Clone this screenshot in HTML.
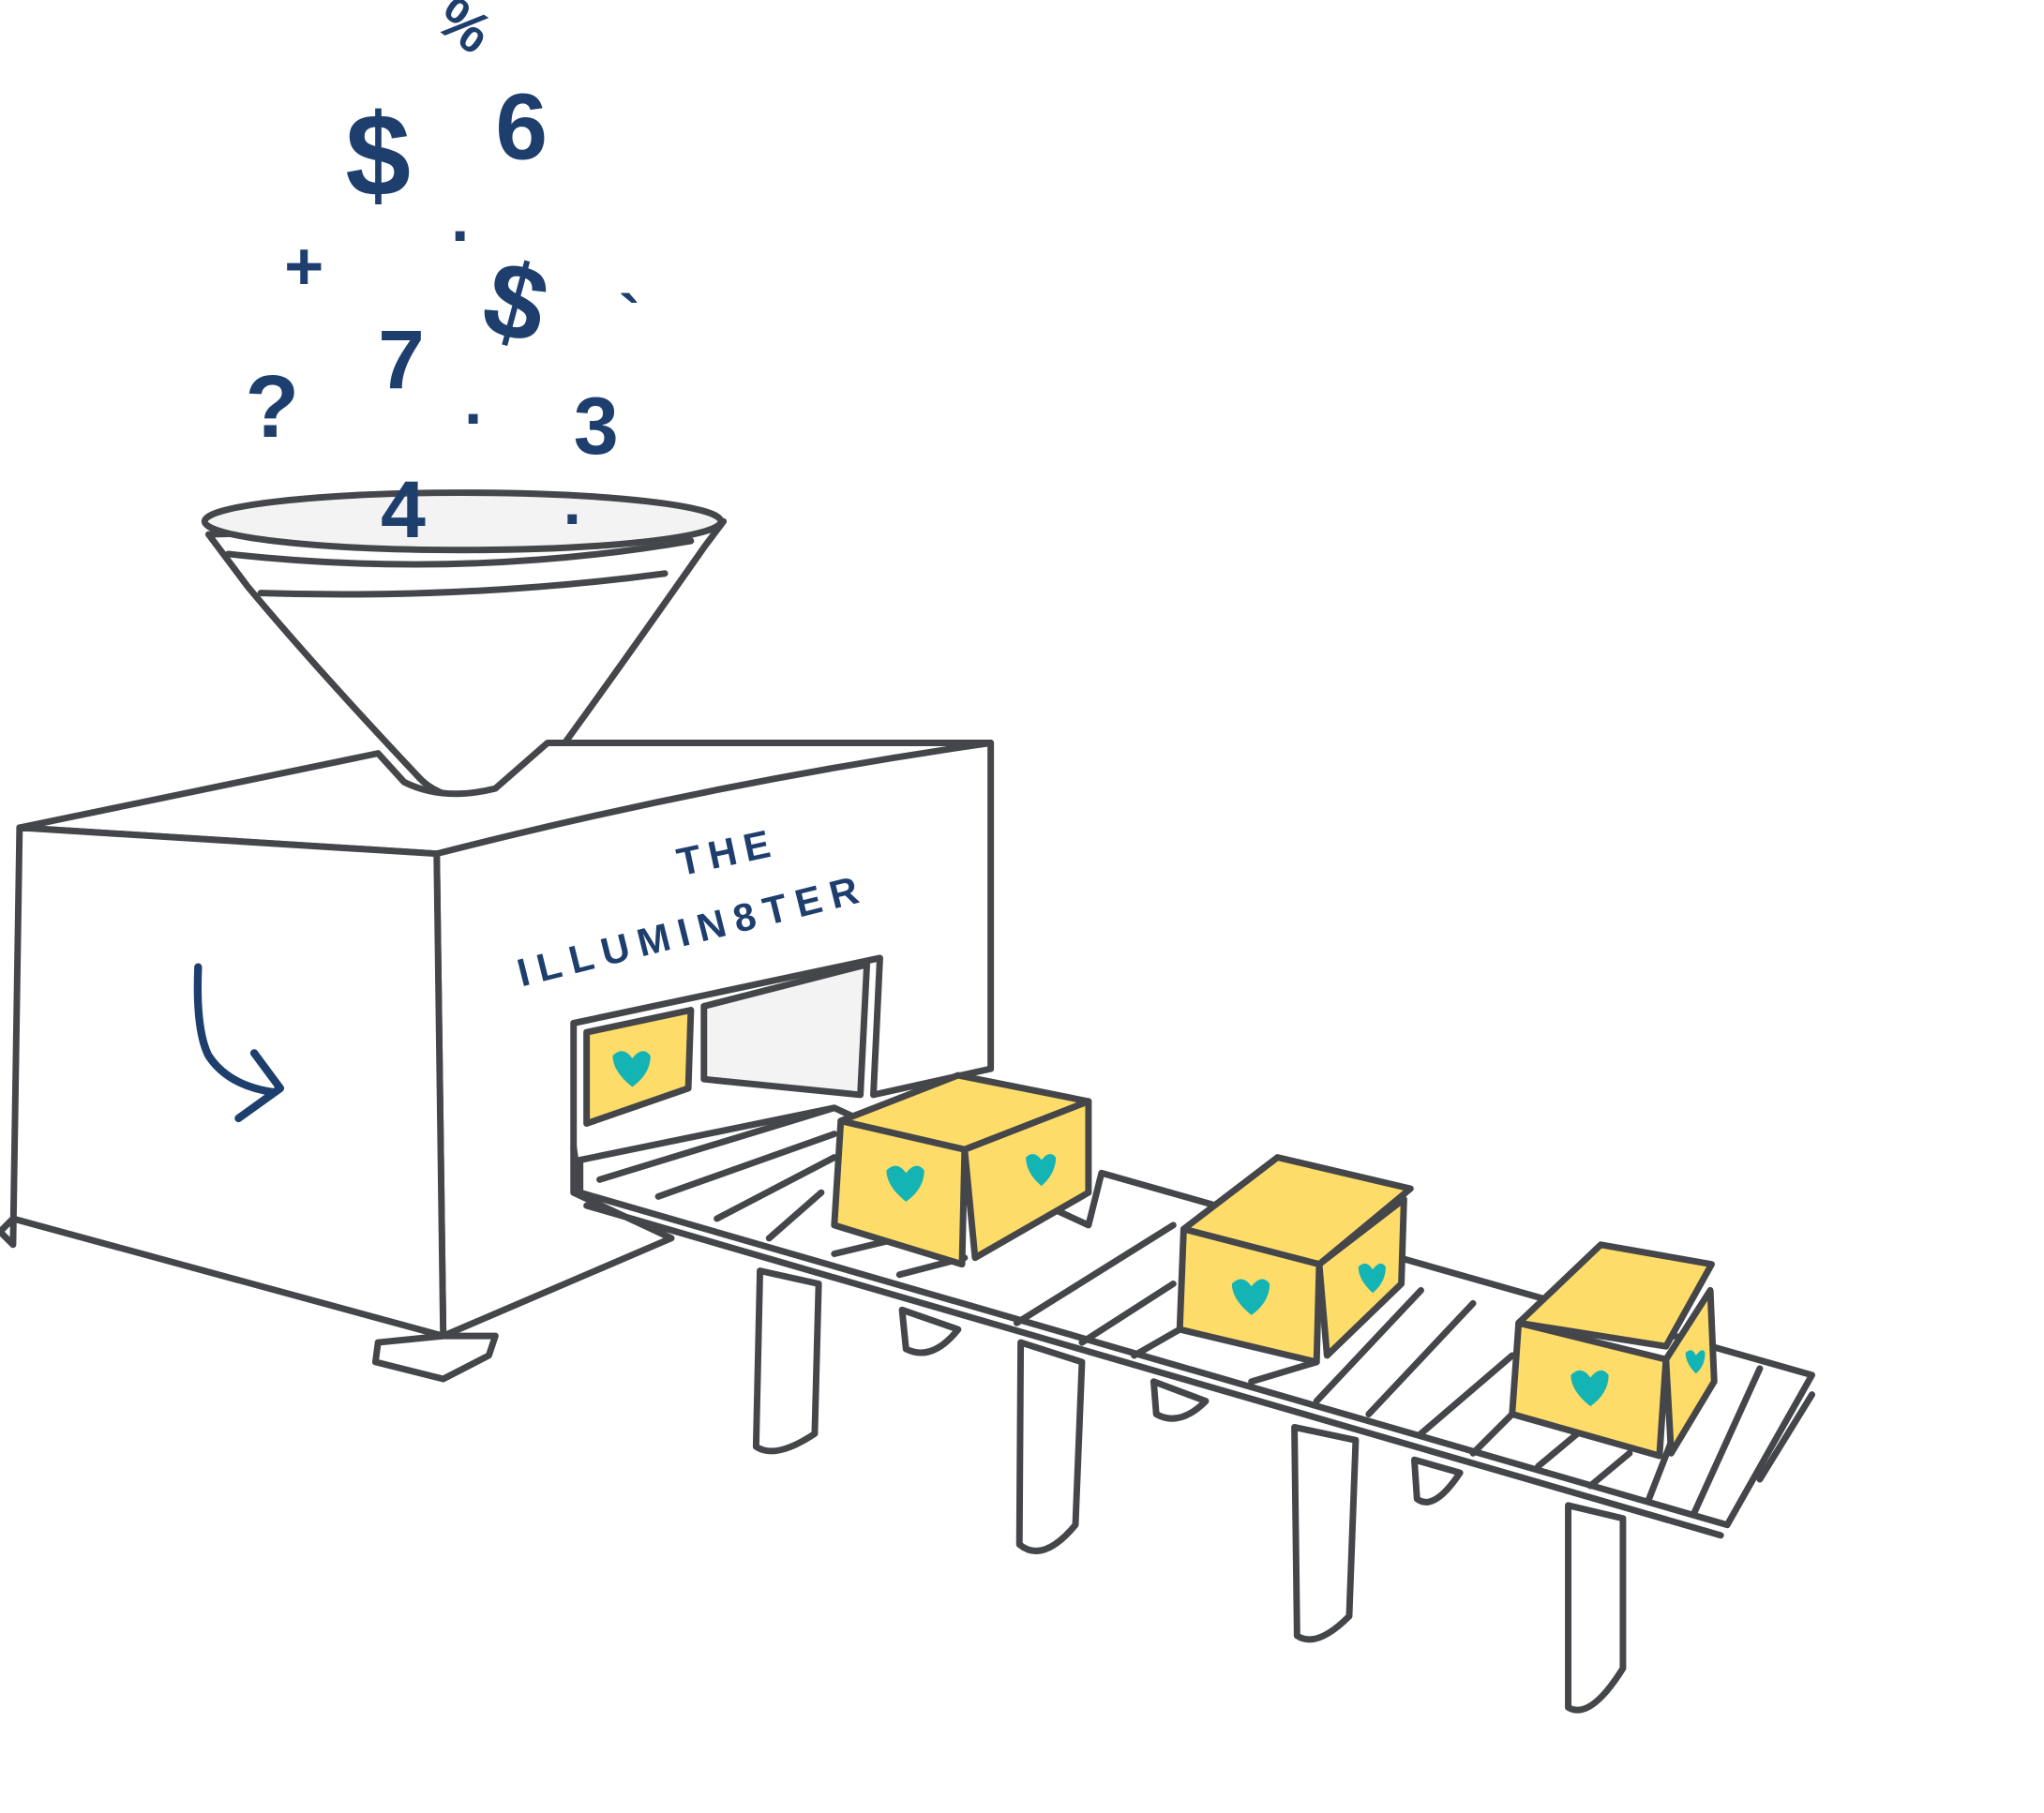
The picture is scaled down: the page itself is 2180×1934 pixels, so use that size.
<!DOCTYPE html>
<html><head><meta charset="utf-8"><style>
html,body{margin:0;padding:0;background:#fff}
svg{display:block}
.s{fill:none;stroke:#45464a;stroke-width:5;stroke-linejoin:round;stroke-linecap:round}
.w{fill:#fff;stroke:#45464a;stroke-width:5;stroke-linejoin:round;stroke-linecap:round}
.y{fill:#fddc6a;stroke:#45464a;stroke-width:5;stroke-linejoin:round}
.g{fill:#f3f3f3;stroke:#45464a;stroke-width:5;stroke-linejoin:round}
.c{fill:#1e3f6e;font-family:"Liberation Sans",sans-serif;font-weight:bold}
.h{fill:#14b4b4}
</style></head><body>
<svg width="2180" height="1934" viewBox="0 0 1568 1391" xmlns="http://www.w3.org/2000/svg">
<g class="c">
<text x="338" y="30" font-size="44" transform="rotate(35 350 15)">%</text>
<text x="265" y="150" font-size="90">$</text>
<text x="380" y="122" font-size="72">6</text>
<text x="346" y="185" font-size="50">.</text>
<text x="218" y="222" font-size="52">+</text>
<text x="375" y="262" font-size="82" transform="rotate(15 405 225)">$</text>
<text x="475" y="260" font-size="48">`</text>
<text x="290" y="298" font-size="64">7</text>
<text x="188" y="335" font-size="68">?</text>
<text x="356" y="325" font-size="50">.</text>
<text x="440" y="348" font-size="62">3</text>
</g>
<!-- funnel -->
<path class="w" d="M160 410 L190 450 Q240 510 320 595 Q335 612 360 612 Q400 612 415 595 Q470 520 540 420 L555 400 Z"/>
<ellipse class="g" cx="355" cy="400" rx="198" ry="22"/>
<path class="s" d="M175 425 Q355 445 530 415"/>
<path class="s" d="M200 455 Q360 460 510 440"/>
<g class="c"><text x="292" y="412" font-size="62">4</text><text x="432" y="402" font-size="50">.</text></g>
<!-- machine -->
<path class="w" d="M15 635 L290 578 L310 600 Q340 615 380 605 L420 570 L760 570 L760 820 L670 840 L675 735 L440 785 L440 915 L515 950 L340 1025 L335 655 Z"/>
<path class="w" d="M15 635 L335 655 L340 1025 L290 1030 L288 1045 L340 1058 L375 1040 L380 1025 L340 1025 L10 935 L0 945 L10 955 Z"/>
<path class="s" d="M335 655 Q550 600 760 570"/>
<path class="g" d="M540 772 L665 740 L660 840 L540 828 Z"/>
<path class="s" style="stroke:#1e3f6e;stroke-width:6" d="M152 742 Q150 790 160 810 Q175 833 210 838 M195 808 L215 835 L183 858"/>
<g class="c" font-size="30">
<text x="522" y="672" transform="rotate(-12 522 672)" letter-spacing="6">THE</text>
<text x="400" y="757" transform="rotate(-14 400 757)" letter-spacing="7">ILLUMIN8TER</text>
</g>
<!-- conveyor -->
<path class="w" d="M445 915 L1325 1170 L1390 1055 L845 900 L835 940 L640 850 L445 890 Z"/>
<path class="s" d="M445 915 L440 880 M450 925 L1320 1178"/>
<g class="s">
<path d="M460 905 L640 850"/><path d="M505 918 L640 870"/><path d="M550 935 L640 888"/>
<path d="M590 950 L630 915"/><path d="M640 962 L690 950"/><path d="M690 978 L740 965"/>
<path d="M780 1015 L900 940"/><path d="M830 1030 L900 985"/><path d="M870 1040 L905 1020"/>
<path d="M960 1060 L1010 1045"/><path d="M1010 1075 L1090 990"/><path d="M1050 1085 L1130 1000"/>
<path d="M1090 1100 L1160 1040"/><path d="M1130 1115 L1160 1085"/><path d="M1180 1125 L1210 1100"/>
<path d="M1220 1140 L1250 1115"/><path d="M1265 1150 L1300 1060"/><path d="M1300 1160 L1350 1050"/>
<path d="M1350 1135 L1390 1070"/>
</g>
<g class="w">
<path d="M583 975 L580 1110 Q595 1120 625 1100 L628 985 Z"/>
<path d="M692 1005 L695 1035 Q715 1045 735 1020 Z"/>
<path d="M783 1030 L782 1185 Q800 1200 825 1170 L830 1045 Z"/>
<path d="M885 1060 L887 1085 Q905 1095 925 1075 Z"/>
<path d="M993 1095 L995 1255 Q1010 1265 1035 1240 L1040 1105 Z"/>
<path d="M1085 1120 L1087 1150 Q1100 1160 1120 1130 Z"/>
<path d="M1203 1155 L1203 1310 Q1220 1320 1245 1280 L1245 1165 Z"/>
</g>
<path class="y" d="M450 792 L530 775 L528 835 L450 862 Z"/>
<path class="h" d="M470 810 q8-8 15 2 q8-10 14-2 q0 14-14 24 q-15-12-15-24Z"/>
<path class="y" d="M645 860 L735 825 L835 845 L740 882 Z"/>
<path class="y" d="M645 860 L740 882 L738 970 L640 940 Z"/>
<path class="y" d="M740 882 L835 845 L835 915 L748 965 Z"/>
<path class="h" d="M680 898 q8-8 15 2 q8-10 14-2 q0 14-14 24 q-15-12-15-24Z"/>
<path class="h" d="M787 888 q6-6 12 2 q6-8 11-2 q0 12-11 22 q-12-10-12-22Z"/>
<path class="y" d="M908 943 L980 888 L1082 912 L1012 970 Z"/>
<path class="y" d="M908 943 L1012 970 L1010 1045 L905 1020 Z"/>
<path class="y" d="M1012 970 L1077 920 L1075 985 L1018 1040 Z"/>
<path class="h" d="M945 985 q8-8 15 2 q8-10 14-2 q0 14-14 24 q-15-12-15-24Z"/>
<path class="h" d="M1042 972 q6-6 11 2 q6-8 10-2 q0 12-10 20 q-11-10-11-20Z"/>
<path class="y" d="M1165 1015 L1228 955 L1313 970 L1278 1033 Z"/>
<path class="y" d="M1165 1015 L1278 1043 L1273 1117 L1160 1085 Z"/>
<path class="y" d="M1278 1043 L1312 990 L1315 1060 L1282 1115 Z"/>
<path class="h" d="M1205 1055 q8-8 15 2 q8-10 14-2 q0 14-14 24 q-15-12-15-24Z"/>
<path class="h" d="M1293 1038 q5-5 8 2 q5-7 7-2 q0 10-7 16 q-8-8-8-16Z"/>
</svg>
</body></html>
